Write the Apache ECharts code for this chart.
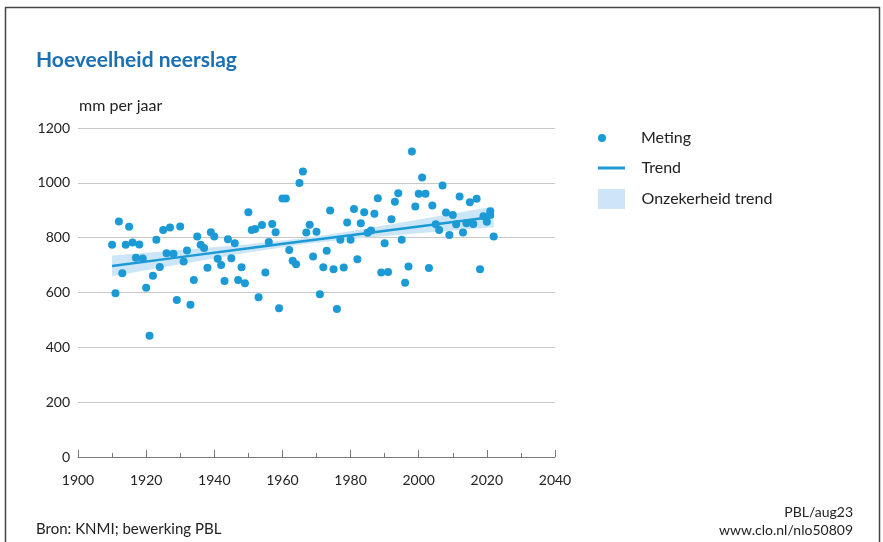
<!DOCTYPE html>
<html><head><meta charset="utf-8">
<script src="https://cdn.jsdelivr.net/npm/echarts@6/dist/echarts.min.js"></script>
<style>html,body{margin:0;padding:0;background:#fff}#c{width:883px;height:542px}</style>
</head><body><div id="c"></div>
<script>
const years = [1910,1911,1912,1913,1914,1915,1916,1917,1918,1919,
  1920,1921,1922,1923,1924,1925,1926,1927,1928,1929,
  1930,1931,1932,1933,1934,1935,1936,1937,1938,1939,
  1940,1941,1942,1943,1944,1945,1946,1947,1948,1949,
  1950,1951,1952,1953,1954,1955,1956,1957,1958,1959,
  1960,1961,1962,1963,1964,1965,1966,1967,1968,1969,
  1970,1971,1972,1973,1974,1975,1976,1977,1978,1979,
  1980,1981,1982,1983,1984,1985,1986,1987,1988,1989,
  1990,1991,1992,1993,1994,1995,1996,1997,1998,1999,
  2000,2001,2002,2003,2004,2005,2006,2007,2008,2009,
  2010,2011,2012,2013,2014,2015,2016,2017,2018,2019,
  2020,2021,2021,2022];
const rainfall = [774,597,859,670,774,840,782,727,775,724,
  617,442,661,792,693,828,743,837,741,573,
  841,713,753,555,646,804,774,762,690,820,
  804,723,700,642,794,725,780,646,692,634,
  893,828,832,583,846,673,784,850,820,543,
  943,943,755,716,703,999,1041,819,847,731,
  822,594,692,752,899,685,540,792,691,855,
  792,905,721,853,893,818,826,887,944,673,
  780,675,867,931,962,792,636,695,1114,914,
  960,1019,960,689,917,849,828,990,892,810,
  883,849,950,819,853,929,850,942,685,878,
  858,896,884,804];
const trendYears = [1910,1930,1950,1966,1980,2000,2022];
const trendMid  = [697,729,761,787,809,841,876];
const trendLow  = [659,703,746,776,795,816,838];
const trendHigh = [735,755,776,798,823,866,914];

const BLUE = '#1b9ad6';
const BAND = '#cde6f7';
const FONT = 'Lato, "Noto Sans", sans-serif';

const chart = echarts.init(document.getElementById('c'), null, {renderer:'canvas'});
function legendCfg(top, h, padLeft, item){
  return {
    orient:'vertical', left:598, top:top, itemWidth:27, itemHeight:h, padding:0, itemGap:0,
    textStyle:{fontSize:16, color:'#222', fontFamily:FONT, padding:[0,0,0,padLeft]},
    selectedMode:false, data:[item]
  };
}
chart.setOption({
  animation:false,
  title:{text:'Hoeveelheid neerslag', left:36, top:50, padding:0,
    textStyle:{fontSize:21, fontWeight:'bold', color:'#1a6fb5', fontFamily:FONT}},
  grid:{left:78, right:328, top:128, bottom:85, containLabel:false},
  legend:[
    legendCfg(130, 8, 20.5, {name:'Meting', icon:'circle'}),
    legendCfg(160, 3, 11.5, {name:'Trend', icon:'rect', itemStyle:{color:BLUE}}),
    legendCfg(189, 20, 11.5, {name:'Onzekerheid trend', icon:'rect', itemStyle:{color:BAND}})
  ],
  xAxis:{type:'value', min:1900, max:2040, interval:20,
    axisLine:{show:true, onZero:false, lineStyle:{color:'#7a7a7a', width:1}},
    axisTick:{show:true, inside:true, length:7, lineStyle:{color:'#7a7a7a'}},
    minorTick:{show:true, splitNumber:2, length:4, lineStyle:{color:'#7a7a7a'}},
    splitLine:{show:false},
    axisLabel:{fontSize:14, color:'#222', margin:16, fontFamily:FONT, formatter:v=>String(v)}},
  yAxis:{type:'value', min:0, max:1200, interval:200,
    axisLine:{show:false}, axisTick:{show:false},
    splitLine:{lineStyle:{color:'#c8c8c8', width:1}},
    axisLabel:{fontSize:14, color:'#222', margin:8, fontFamily:FONT, formatter:v=>String(v)}},
  graphic:[
    {type:'rect', shape:{x:5.5, y:7.5, width:874, height:560}, style:{fill:'none', stroke:'#444', lineWidth:1.5}, silent:true},
    {type:'text', left:79, top:98, style:{text:'mm per jaar', fontSize:16, fill:'#222', fontFamily:FONT}},
    {type:'text', left:36, top:522, style:{text:'Bron: KNMI; bewerking PBL', fontSize:15, fill:'#222', fontFamily:FONT}},
    {type:'text', right:30, top:505, style:{text:'PBL/aug23', fontSize:14, fill:'#222', fontFamily:FONT, align:'right'}},
    {type:'text', right:30, top:523, style:{text:'www.clo.nl/nlo50809', fontSize:14, fill:'#222', fontFamily:FONT, align:'right'}}
  ],
  series:[
    {type:'custom', name:'Onzekerheid trend', silent:true, z:1,
      itemStyle:{color:BAND},
      data:[0],
      renderItem:(params, api)=>{
        const up = trendYears.map((y,i)=>api.coord([y,trendHigh[i]]));
        const lo = trendYears.map((y,i)=>api.coord([y,trendLow[i]])).reverse();
        return {type:'polygon', shape:{points:up.concat(lo)}, style:{fill:BAND}};
      }},
    {type:'line', name:'Trend', symbol:'none', silent:true,
      lineStyle:{color:BLUE, width:2.5}, itemStyle:{color:BLUE},
      data:trendYears.map((y,i)=>[y,trendMid[i]]), z:2},
    {type:'scatter', name:'Meting', symbolSize:8, itemStyle:{color:BLUE, opacity:1},
      data:years.map((y,i)=>[y,rainfall[i]]), z:3}
  ]
});
</script></body></html>
